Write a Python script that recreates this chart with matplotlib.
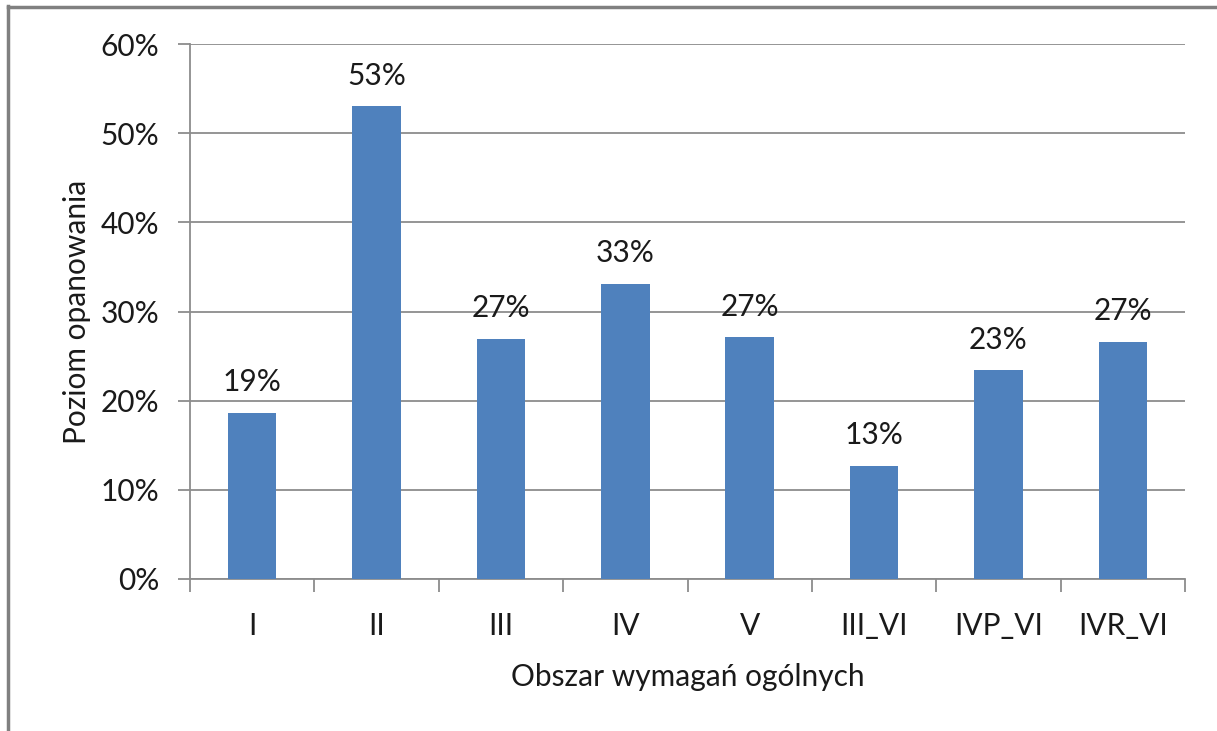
import matplotlib
matplotlib.use("Agg")
import matplotlib.pyplot as plt
from matplotlib.ticker import PercentFormatter
from matplotlib.lines import Line2D

categories = ["I", "II", "III", "IV", "V", "III_VI", "IVP_VI", "IVR_VI"]
values = [0.186, 0.530, 0.269, 0.331, 0.271, 0.127, 0.234, 0.266]
labels = ["19%", "53%", "27%", "33%", "27%", "13%", "23%", "27%"]
yticks = [0, 0.1, 0.2, 0.3, 0.4, 0.5, 0.6]

plt.rcParams['font.family'] = ['Lato', 'DejaVu Sans']
W, H = 1217, 731
FS = 21.5
TC = "#1a1a1a"
fig = plt.figure(figsize=(W/100, H/100), dpi=100)
ax = fig.add_axes([190/W, 1-579/H, (1185-190)/W, (579-44)/H])

x = list(range(len(categories)))
ax.bar(x, values, width=0.39, color="#4F81BD", zorder=3)
ax.set_xlim(-0.5, len(categories)-0.5)
ax.set_ylim(0, 0.6)
ax.set_yticks(yticks)
ax.yaxis.set_major_formatter(PercentFormatter(1.0, decimals=0))
ax.grid(axis='y', color="#8c8c8c", linewidth=1.3, zorder=0)
for s in ['top', 'right']:
    ax.spines[s].set_visible(False)
for s in ['left', 'bottom']:
    ax.spines[s].set_color("#8c8c8c")
    ax.spines[s].set_linewidth(1.3)
ax.set_xticks([i-0.5 for i in range(len(categories)+1)], minor=False)
ax.set_xticklabels([])
ax.set_xticks(x, minor=True)
ax.set_xticklabels(categories, minor=True)
ax.tick_params(axis='x', which='major', length=9, color="#8c8c8c", width=1.3, direction='out')
ax.tick_params(axis='x', which='minor', length=0, pad=24, labelsize=FS, labelcolor=TC)
ax.tick_params(axis='y', length=9, color="#8c8c8c", width=1.3, pad=13, labelsize=FS, labelcolor=TC)

for xi, v, lab in zip(x, values, labels):
    ax.annotate(lab, (xi, v), xytext=(0, 12), textcoords='offset points',
                ha='center', va='bottom', fontsize=FS, color=TC)

ax.set_ylabel("Poziom opanowania", fontsize=FS, color=TC, labelpad=7)
ax.set_xlabel("Obszar wymagań ogólnych", fontsize=FS, color=TC, labelpad=16)

# outer frame (left and top edges)
fig.add_artist(Line2D([8/W, 8/W], [0, 1-6/H], transform=fig.transFigure, color="#808080", linewidth=2.5))
fig.add_artist(Line2D([8/W, 1], [1-7/H, 1-7/H], transform=fig.transFigure, color="#808080", linewidth=2.5))

fig.savefig("out.png", dpi=100)
